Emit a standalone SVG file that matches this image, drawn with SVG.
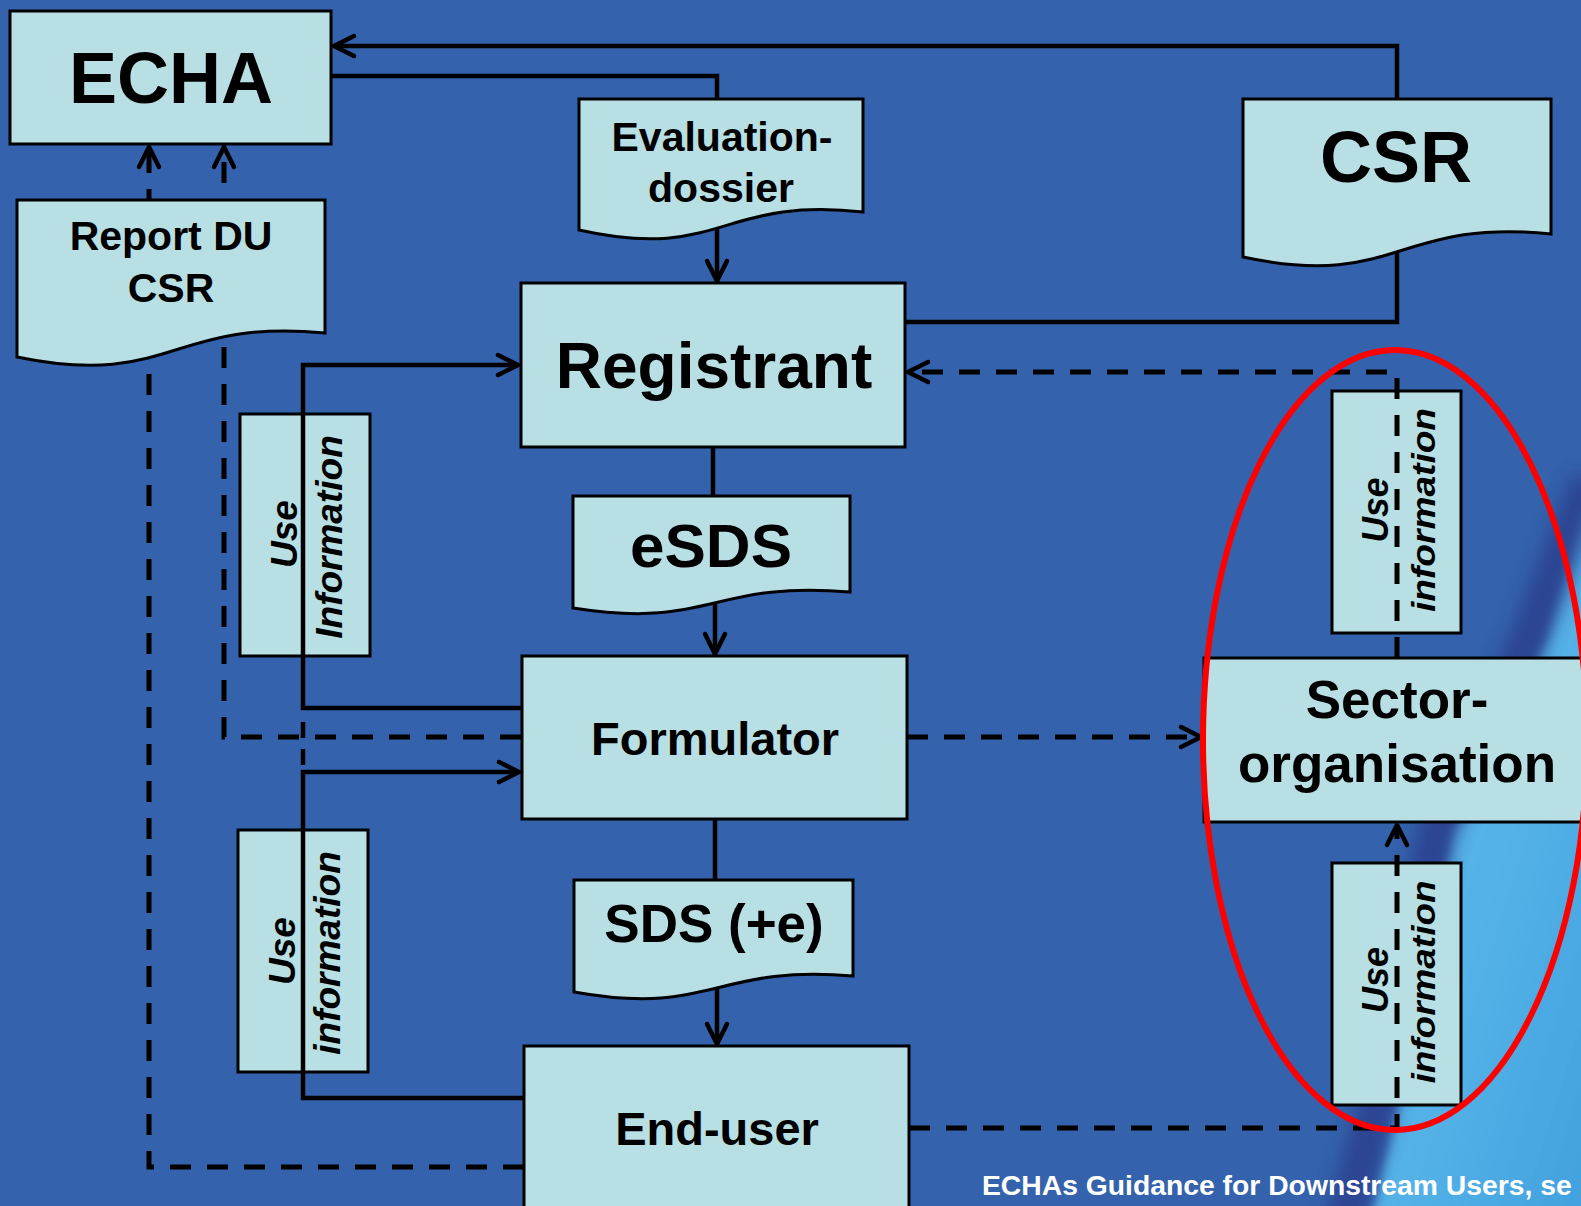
<svg xmlns="http://www.w3.org/2000/svg" width="1581" height="1206" viewBox="0 0 1581 1206">
<defs>
<style>
.box{fill:#b8dfe3;stroke:#000;stroke-width:3}
.t{font-family:"Liberation Sans",Arial,sans-serif;font-weight:bold;fill:#000;text-anchor:middle}
.ui{font-style:italic;font-size:37px}
.ln{fill:none;stroke:#000;stroke-width:4.5}
.dl{fill:none;stroke:#000;stroke-width:5;stroke-dasharray:21 16}
</style>
<marker id="ah" viewBox="-26 -14 30 28" markerWidth="30" markerHeight="28" refX="0" refY="0" orient="auto" markerUnits="userSpaceOnUse">
<path d="M-20,-10 L0,0 L-20,10" fill="none" stroke="#000" stroke-width="4.5" stroke-linecap="round" stroke-linejoin="round" stroke-dasharray="none"/>
</marker>
<linearGradient id="lb" x1="0" y1="0" x2="1" y2="1">
<stop offset="0" stop-color="#62bdea"/>
<stop offset="0.6" stop-color="#52b0e6"/>
<stop offset="1" stop-color="#3f9edd"/>
</linearGradient>
<filter id="bl" x="-50%" y="-50%" width="200%" height="200%"><feGaussianBlur stdDeviation="9"/></filter>
<filter id="bl2" x="-50%" y="-50%" width="200%" height="200%"><feGaussianBlur stdDeviation="5"/></filter>
</defs>
<g id="background">
<rect x="0" y="0" width="1581" height="1206" fill="#3462ac"/>
<path d="M1600,490 L1578,520 L1545,640 L1452,830 L1396,1110 L1368,1230 L1600,1230 Z" fill="url(#lb)" filter="url(#bl2)"/>
<path d="M1590,480 L1528,640 L1437,830 L1376,1110 L1341,1230" fill="none" stroke="#2c3f8e" stroke-width="38" opacity="0.85" filter="url(#bl)"/>
</g>
<g id="use-info-left-upper">
<rect class="box" x="240" y="414" width="130" height="242"/>
<text class="t ui" transform="translate(297,534) rotate(-90)">Use</text>
<text class="t ui" transform="translate(342,537) rotate(-90)">Information</text>
</g>
<g id="use-info-left-lower">
<rect class="box" x="238" y="830" width="130" height="242"/>
<text class="t ui" transform="translate(295,951) rotate(-90)">Use</text>
<text class="t ui" transform="translate(340,953) rotate(-90)">information</text>
</g>
<g id="use-info-right-upper">
<rect class="box" x="1332" y="391" width="129" height="242"/>
<text class="t ui" transform="translate(1388,510) rotate(-90)" textLength="65" lengthAdjust="spacingAndGlyphs">Use</text>
<text class="t ui" transform="translate(1435,510) rotate(-90)" style="font-size:33px" textLength="204" lengthAdjust="spacingAndGlyphs">information</text>
</g>
<g id="use-info-right-lower">
<rect class="box" x="1332" y="863" width="129" height="242"/>
<text class="t ui" transform="translate(1388,980) rotate(-90)" textLength="66" lengthAdjust="spacingAndGlyphs">Use</text>
<text class="t ui" transform="translate(1435,982) rotate(-90)" style="font-size:33px" textLength="203" lengthAdjust="spacingAndGlyphs">information</text>
</g>
<g id="connectors">
<path class="ln" d="M1397,252 V322 H905"/>
<path class="ln" d="M1397,99 V46 H334" marker-end="url(#ah)"/>
<path class="ln" d="M717,99 V76 H331"/>
<path class="ln" d="M717,227 V281" marker-end="url(#ah)"/>
<path class="ln" d="M713,447 V496"/>
<path class="ln" d="M715,604 V654" marker-end="url(#ah)"/>
<path class="ln" d="M715,819 V880"/>
<path class="ln" d="M717,984 V1044" marker-end="url(#ah)"/>
<path class="ln" d="M522,708 H303 V365 H518" marker-end="url(#ah)"/>
<path class="ln" d="M524,1098 H303 V772 H519" marker-end="url(#ah)"/>
<path class="ln" d="M303,722 V767" style="stroke-dasharray:16 11"/>
<path class="dl" d="M521,737 H224 V147" marker-end="url(#ah)"/>
<path class="dl" d="M524,1167 H149 V147" marker-end="url(#ah)"/>
<path class="dl" d="M907,737 H1201" marker-end="url(#ah)"/>
<path class="dl" d="M1397,658 V372 H908" marker-end="url(#ah)"/>
<path class="dl" d="M909,1128 H1397 V825" marker-end="url(#ah)"/>
</g>
<g id="echa">
<rect class="box" x="10" y="11" width="321" height="133"/>
<text class="t" x="171" y="103" style="font-size:72px">ECHA</text>
</g>
<g id="report-du-csr">
<path class="box" d="M17,200 H325 V333 C171,318 171,389 17,357 Z"/>
<text class="t" x="171" y="250" style="font-size:41px">Report DU</text>
<text class="t" x="171" y="302" style="font-size:41px">CSR</text>
</g>
<g id="evaluation-dossier">
<path class="box" d="M579,99 H863 V212 C721,196 721,262 579,230 Z"/>
<text class="t" x="722" y="151" style="font-size:41px">Evaluation-</text>
<text class="t" x="721" y="202" style="font-size:41px">dossier</text>
</g>
<g id="csr">
<path class="box" d="M1243,99 H1551 V234 C1397,218 1397,290 1243,257 Z"/>
<text class="t" x="1396" y="182" style="font-size:72px">CSR</text>
</g>
<g id="registrant">
<rect class="box" x="521" y="283" width="384" height="164"/>
<text class="t" x="714" y="388" style="font-size:64px">Registrant</text>
</g>
<g id="esds">
<path class="box" d="M573,496 H850 V592 C711.5,580 711.5,630 573,608 Z"/>
<text class="t" x="711" y="567" style="font-size:62px">eSDS</text>
</g>
<g id="formulator">
<rect class="box" x="522" y="656" width="385" height="163"/>
<text class="t" x="715" y="755" style="font-size:47px">Formulator</text>
</g>
<g id="sds">
<path class="box" d="M574,880 H853 V976 C713.5,964 713.5,1017 574,992 Z"/>
<text class="t" x="714" y="942" style="font-size:53px">SDS (+e)</text>
</g>
<g id="end-user">
<rect class="box" x="524" y="1046" width="385" height="180"/>
<text class="t" x="717" y="1145" style="font-size:47px">End-user</text>
</g>
<g id="sector-organisation">
<rect class="box" x="1204" y="658" width="420" height="164"/>
<text class="t" x="1397" y="718" style="font-size:53px">Sector-</text>
<text class="t" x="1397" y="782" style="font-size:53px">organisation</text>
</g>
<g id="highlight">
<ellipse cx="1395" cy="740" rx="192" ry="390" fill="none" stroke="#ff0000" stroke-width="6"/>
</g>
<g id="footer">
<text x="982" y="1195" style="font-family:'Liberation Sans',Arial,sans-serif;font-weight:bold;font-size:28.3px;fill:#fff">ECHAs Guidance for Downstream Users, se</text>
</g>
</svg>
